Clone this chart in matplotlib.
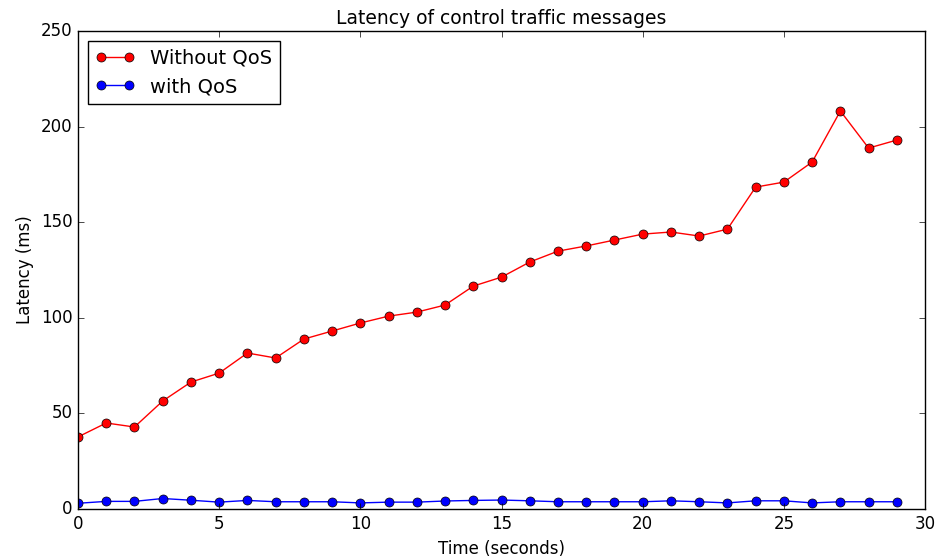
import matplotlib
matplotlib.use("Agg")
import matplotlib.pyplot as plt

time_s = list(range(30))
without_qos = [37.7, 45.0, 42.9, 56.5, 66.4, 71.1, 81.6, 79.0, 88.9, 93.1,
               97.3, 100.9, 103.0, 106.7, 116.6, 121.3, 129.2, 134.9, 137.6, 140.7,
               143.8, 144.9, 142.8, 146.4, 168.4, 171.0, 181.5, 208.2, 188.8, 193.0]
with_qos = [3.0, 4.0, 4.0, 5.5, 4.6, 3.6, 4.5, 3.8, 3.8, 3.8,
            3.2, 3.6, 3.6, 4.2, 4.5, 4.7, 4.3, 3.8, 3.8, 3.8,
            3.8, 4.3, 3.8, 3.2, 4.3, 4.3, 3.2, 3.8, 3.8, 3.8]

plt.style.use('classic')
plt.rcParams['font.family'] = ['DejaVu Sans']

fig = plt.figure(figsize=(9.35, 5.59), dpi=100, facecolor='white')
ax = fig.add_axes([0.0834, 0.0894, 0.906, 0.855])
ax.plot(time_s, without_qos, 'r-o', markersize=6.5, label='Without QoS')
ax.plot(time_s, with_qos, 'b-o', markersize=6.5, label='with QoS')
ax.set_xlim(0, 30)
ax.set_ylim(0, 250)
ax.set_title('Latency of control traffic messages', fontsize=13.5)
ax.set_xlabel('Time (seconds)', fontsize=12)
ax.set_ylabel('Latency (ms)', fontsize=12)
ax.tick_params(labelsize=12)
ax.legend(loc='upper left', fontsize=14, numpoints=2)
fig.savefig('out.png', dpi=100, facecolor='white')
